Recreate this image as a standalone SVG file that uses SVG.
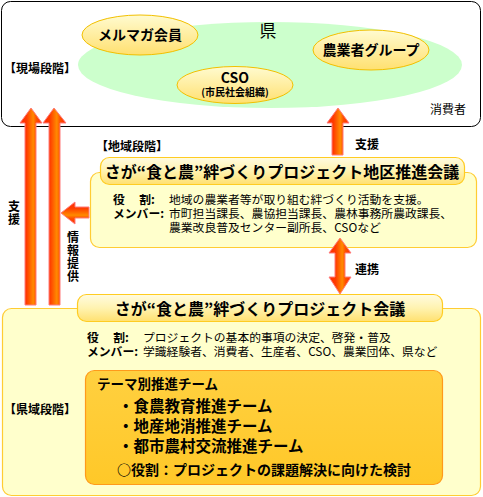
<svg xmlns="http://www.w3.org/2000/svg" width="483" height="497" viewBox="0 0 483 497">
<defs>
<linearGradient id="ell" x1="0" y1="0" x2="0" y2="1">
<stop offset="0" stop-color="#fffbd0"/><stop offset="1" stop-color="#ffe070"/>
</linearGradient>
<linearGradient id="bar" x1="0" y1="0" x2="0" y2="1">
<stop offset="0" stop-color="#fffbe0"/><stop offset="0.5" stop-color="#fff3b0"/><stop offset="1" stop-color="#ffe070"/>
</linearGradient>
<linearGradient id="team" x1="0" y1="0" x2="0" y2="1">
<stop offset="0" stop-color="#ffd040"/><stop offset="1" stop-color="#ffc828"/>
</linearGradient>
<linearGradient id="arrH" x1="0" y1="0" x2="1" y2="0">
<stop offset="0" stop-color="#ff2a00"/><stop offset="0.3" stop-color="#ff3c00"/><stop offset="0.6" stop-color="#ff8a00"/><stop offset="0.75" stop-color="#ff5000"/><stop offset="1" stop-color="#ff2a00"/>
</linearGradient>
<linearGradient id="arrV" x1="0" y1="0" x2="0" y2="1">
<stop offset="0" stop-color="#ff2a00"/><stop offset="0.3" stop-color="#ff4000"/><stop offset="0.6" stop-color="#ff8a00"/><stop offset="0.75" stop-color="#ff5000"/><stop offset="1" stop-color="#ff2a00"/>
</linearGradient>
</defs>
<style>
text{font-family:"Noto Sans CJK JP","Noto Sans CJK SC",sans-serif;fill:#000}
.b{font-weight:bold}
.ell{fill:url(#ell);stroke:#f2c000;stroke-width:1}
.panel{fill:#ffffcc;stroke:#ffcc33;stroke-width:1.2}
.bar{fill:url(#bar);stroke:#ffcc22;stroke-width:1.2}
.arr{fill:url(#arrH);stroke:#ff7a7a;stroke-width:1}
.arrv{fill:url(#arrV);stroke:#ff7a7a;stroke-width:1}
.lbl{font-size:12px;font-weight:bold}
.vert{font-size:12px;font-weight:bold;writing-mode:vertical-rl;letter-spacing:1px}
.body{font-size:11.8px}
.key{font-weight:bold}
.title{font-size:16px;font-weight:bold}
</style>

<g id="field-stage">
<rect x="1.5" y="1.5" width="479" height="125" rx="9" fill="#ffffff" stroke="#000" stroke-width="1"/>
<ellipse cx="270" cy="65" rx="192" ry="43" fill="#ccffcc"/>
<text x="268" y="37" font-size="17" text-anchor="middle">県</text>
<text x="4" y="73" class="lbl">【現場段階】</text>
<text x="430" y="114" font-size="12">消費者</text>
</g>

<g id="mailmag">
<ellipse cx="140" cy="35" rx="58" ry="20" class="ell"/>
<text x="140" y="40" font-size="14" class="b" text-anchor="middle">メルマガ会員</text>
</g>

<g id="farmers">
<ellipse cx="371" cy="50" rx="58" ry="20" class="ell"/>
<text x="371" y="55" font-size="14" class="b" text-anchor="middle">農業者グループ</text>
</g>

<g id="cso">
<ellipse cx="235" cy="85" rx="58" ry="18.5" class="ell"/>
<text x="235" y="83" font-size="14" class="b" text-anchor="middle">CSO</text>
<text x="235" y="96" font-size="10" class="b" text-anchor="middle">(市民社会組織)</text>
</g>

<g id="regional">
<text x="96" y="151" class="lbl">【地域段階】</text>
<rect x="90.5" y="172.5" width="386" height="75" rx="9" class="panel"/>
<rect x="100.5" y="157.5" width="364" height="27" rx="9" class="bar"/>
<text x="282" y="178" class="title" text-anchor="middle">さが“食と農”絆づくりプロジェクト地区推進会議</text>
<text class="body"><tspan x="113" y="204" class="key">役　 割:</tspan><tspan x="169" y="204">地域の農業者等が取り組む絆づくり活動を支援。</tspan><tspan x="113" y="218" class="key">メンバー:</tspan><tspan x="169" y="218">市町担当課長、農協担当課長、農林事務所農政課長、</tspan><tspan x="169" y="232">農業改良普及センター副所長、CSOなど</tspan></text>
</g>

<g id="prefectural">
<rect x="2.5" y="308.5" width="478" height="187" rx="9" class="panel"/>
<rect x="77.5" y="294.5" width="365" height="27" rx="9" class="bar"/>
<text x="260" y="315" class="title" text-anchor="middle">さが“食と農”絆づくりプロジェクト会議</text>
<text x="4" y="414" class="lbl">【県域段階】</text>
<text class="body"><tspan x="87" y="342" class="key">役　 割:</tspan><tspan x="143" y="342">プロジェクトの基本的事項の決定、啓発・普及</tspan><tspan x="87" y="356" class="key">メンバー:</tspan><tspan x="143" y="356">学識経験者、消費者、生産者、CSO、農業団体、県など</tspan></text>
</g>

<g id="theme-teams">
<rect x="85.5" y="370.5" width="357" height="114" rx="9" fill="url(#team)" stroke="#ff9a1a" stroke-width="1.2"/>
<text x="97" y="389" font-size="13.5" class="b">テーマ別推進チーム</text>
<text x="118" y="412" font-size="15.5" class="b">・食農教育推進チーム</text>
<text x="118" y="432" font-size="15.5" class="b">・地産地消推進チーム</text>
<text x="118" y="452" font-size="15.5" class="b">・都市農村交流推進チーム</text>
<text x="117" y="475" font-size="14" class="b">○役割：プロジェクトの課題解決に向けた検討</text>
</g>

<g id="connectors">
<polygon class="arr" points="31,108 42,123 36,123 36,305 25,305 25,123 20,123"/>
<polygon class="arr" points="54,108 66,123 60,123 60,305 49,305 49,123 43,123"/>
<polygon class="arrv" points="61,213 75,202 75,207 89,207 89,218 75,218 75,224"/>
<polygon class="arr" points="338,108 349,123 343,123 343,155 332,155 332,123 327,123"/>
<polygon class="arr" points="340,238 351,253 345,253 345,277 351,277 340,294 329,277 335,277 335,253 329,253"/>
<text x="14" y="200" class="vert">支援</text>
<text x="73" y="231" class="vert">情報提供</text>
<text x="355" y="149" class="lbl">支援</text>
<text x="355" y="274" class="lbl">連携</text>
</g>
</svg>
